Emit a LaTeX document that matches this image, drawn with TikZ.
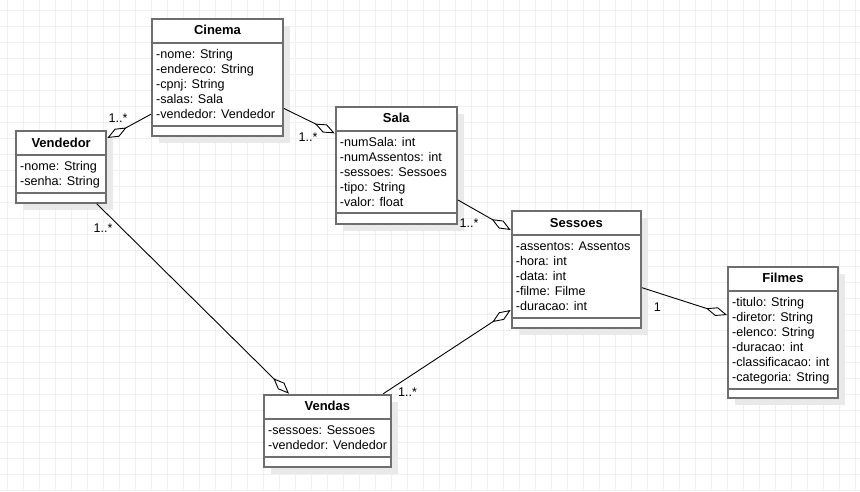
\documentclass[tikz,border=0pt]{standalone}
\usepackage{fontspec}
\setmainfont{Liberation Sans}
\usetikzlibrary{arrows.meta,calc,shadows}
\definecolor{gridc}{HTML}{F0F0F0}
\definecolor{boxc}{HTML}{6E6E6E}
\definecolor{shadc}{HTML}{E9E9E9}
\tikzset{
  classbox/.style={draw=boxc, line width=2pt, fill=white, anchor=north west, inner sep=0pt,
    drop shadow={shadow xshift=7pt, shadow yshift=-7pt, fill=shadc, opacity=1}},
  sepline/.style={draw=boxc, line width=2pt},
  ctitle/.style={font=\fontsize{13}{15}\selectfont\bfseries, anchor=base, inner sep=0pt},
  attr/.style={font=\fontsize{12.6}{15}\selectfont, anchor=base west, inner sep=0pt},
  mult/.style={font=\fontsize{12.6}{15}\selectfont, inner sep=0pt},
  assoc/.style={draw=black, line width=0.9pt, -{Diamond[length=22pt, width=9pt, fill=white, line width=0.9pt]}}
}
% #1 name, #2 x, #3 y, #4 width, #5 height, #6 attr-compartment height, #7 title
\newcommand{\umlclass}[7]{%
  \node[classbox, minimum width=#4pt, minimum height=#5pt] (#1) at (#2,#3) {};
  \node[ctitle] (#1-title) at ($(#1.north)+(0,17)$) {#7};
  \draw[sepline] ($(#1.north west)+(0,25)$) -- ($(#1.north east)+(0,25)$);
  \draw[sepline] ($(#1.north west)+(0,25+#6)$) -- ($(#1.north east)+(0,25+#6)$);
}
\newcommand{\umlattrs}[2]{%
  \foreach \t [count=\i] in {#2} {
    \node[attr] (#1-a\i) at ($(#1.north west)+(5,25+15.5+15*\i-15)$) {\t};
  }
}
\begin{document}
\begin{tikzpicture}[x=1pt, y=-1pt]
\useasboundingbox (0,0) rectangle (860,491);
\fill[white] (0,0) rectangle (860,491);
\foreach \gx in {0,...,53} { \draw[gridc, line width=1pt] (7.3+16*\gx,0) -- (7.3+16*\gx,491); }
\foreach \gy in {0,...,30} { \draw[gridc, line width=1pt] (0,10.5+16*\gy) -- (860,10.5+16*\gy); }

\umlclass{cinema}{151}{17.7}{131}{117}{83.3}{Cinema}
\umlattrs{cinema}{-nome: String,-endereco: String,-cpnj: String,-salas: Sala,-vendedor: Vendedor}

\umlclass{vendedor}{15}{130}{90.3}{71.7}{38.4}{Vendedor}
\umlattrs{vendedor}{-nome: String,-senha: String}

\umlclass{sala}{334.7}{105.7}{121.3}{117}{82.3}{Sala}
\umlattrs{sala}{-numSala: int,-numAssentos: int,-sessoes: Sessoes,-tipo: String,-valor: float}

\umlclass{sessoes}{510.7}{210}{129.3}{116.7}{83.3}{Sessoes}
\umlattrs{sessoes}{-assentos: Assentos,-hora: int,-data: int,-filme: Filme,-duracao: int}

\umlclass{filmes}{727}{265.7}{110}{131.6}{98}{Filmes}
\umlattrs{filmes}{-titulo: String,-diretor: String,-elenco: String,-duracao: int,-classificacao: int,-categoria: String}

\umlclass{vendas}{263}{393.7}{126.7}{72}{38}{Vendas}
\umlattrs{vendas}{-sessoes: Sessoes,-vendedor: Vendedor}

% connectors
\draw[assoc] ($(cinema.north west)+(0,96.5)$) -- ($(vendedor.north east)+(0,8)$);
\draw[assoc] ($(cinema.north east)+(0,90.8)$) -- ($(sala.north west)+(0,27.6)$);
\draw[assoc] ($(sala.north east)+(0,94.3)$) -- ($(sessoes.north west)+(0,20)$);
\draw[assoc] ($(vendas.north west)+(120.3,0)$) -- ($(sessoes.north west)+(0,100)$);
\draw[assoc] ($(vendedor.south west)+(81.7,0)$) -- ($(vendas.north west)+(26,0)$);
\draw[assoc] ($(sessoes.north east)+(0,77.7)$) -- ($(filmes.north west)+(0,49.3)$);

% multiplicities
\node[mult] (m1) at (118,118) {1..*};
\node[mult] (m2) at (308,137) {1..*};
\node[mult] (m3) at (469,222.7) {1..*};
\node[mult] (m4) at (407.5,392) {1..*};
\node[mult] (m5) at (103,228) {1..*};
\node[mult] (m6) at (657.3,307) {1};
\end{tikzpicture}
\end{document}
